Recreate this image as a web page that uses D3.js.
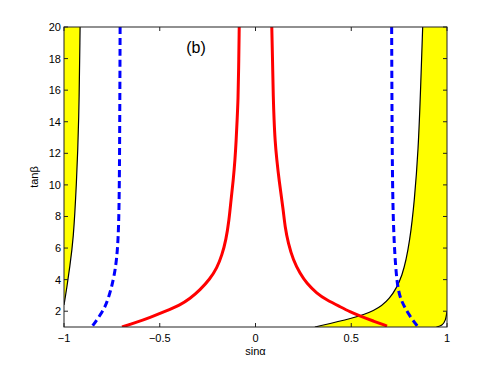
<!DOCTYPE html>
<html>
<head>
<meta charset="utf-8">
<script src="https://cdn.jsdelivr.net/npm/d3@7"></script>
<style>
  body { margin: 0; background: #fff; }
  .chart { width: 494px; height: 368px; }
  text { font-family: "Liberation Sans", Arial, sans-serif; }
</style>
</head>
<body>
<div class="chart"></div>
<script>
// tick labels
const xTicks = [-1, -0.5, 0, 0.5, 1];
const yTicks = [2, 4, 6, 8, 10, 12, 14, 16, 18, 20];

// boundaries of the yellow regions, [sinα, tanβ]
const leftEdge = [[-1, 2.4], [-0.985, 3.5], [-0.97, 4.8], [-0.951, 6.5], [-0.935, 10], [-0.922, 14], [-0.916, 20]];
const rightEdge = [[0.31, 1], [0.51, 1.56], [0.62, 2.0], [0.70, 2.7], [0.77, 4.17], [0.807, 6.5], [0.83, 9], [0.85, 12.2], [0.862, 16], [0.873, 20]];
const cornerEdge = [[0.945, 1], [0.975, 1.1], [0.993, 1.4], [1.0, 2.0]];

// dashed blue curves
const blueLeft = [[-0.707, 20], [-0.71, 10], [-0.716, 6.3], [-0.734, 4.3], [-0.77, 2.7], [-0.796, 2.0], [-0.855, 1]];
const blueRight = [[0.711, 20], [0.714, 10], [0.723, 6.3], [0.739, 3.55], [0.762, 2.6], [0.807, 1.65], [0.849, 1]];

// solid red curves
const redLeft = [[-0.085, 20], [-0.088, 17.3], [-0.091, 15.4], [-0.096, 14.1], [-0.101, 12.8], [-0.107, 11.6],
  [-0.116, 10.3], [-0.128, 9.04], [-0.138, 7.78], [-0.154, 6.51], [-0.175, 5.56], [-0.201, 4.74], [-0.238, 4.04],
  [-0.290, 3.34], [-0.342, 2.80], [-0.394, 2.39], [-0.473, 1.98], [-0.551, 1.60], [-0.624, 1.285], [-0.697, 1.0]];
const redRight = [[0.085, 20], [0.089, 17.9], [0.093, 15.4], [0.097, 14.1], [0.102, 12.8], [0.111, 11.6],
  [0.123, 10.3], [0.145, 8.41], [0.154, 7.35], [0.171, 6.30], [0.197, 5.24], [0.232, 4.40], [0.267, 3.77],
  [0.320, 3.13], [0.372, 2.71], [0.441, 2.29], [0.493, 1.97], [0.546, 1.70], [0.614, 1.38], [0.687, 1.06]];

const width = 494, height = 368;
const mLeft = 64, mRight = 447, mTop = 27, mBottom = 327;

const svg = d3.select('.chart').append('svg')
  .attr('width', width)
  .attr('height', height);

const x = d3.scaleLinear().domain([-1, 1]).range([mLeft, mRight]);
const y = d3.scaleLinear().domain([1, 20]).range([mBottom, mTop]);

svg.append('clipPath').attr('id', 'clip')
  .append('rect')
  .attr('x', mLeft).attr('y', mTop)
  .attr('width', mRight - mLeft).attr('height', mBottom - mTop);

const plot = svg.append('g').attr('clip-path', 'url(#clip)');

// basis curve smooths out the reading noise a bit
const line = d3.line()
  .x(d => x(d[0]))
  .y(d => y(d[1]))
  .curve(d3.curveBasis);

// yellow regions
plot.append('path')
  .attr('d', line(leftEdge) + 'L' + x(-1) + ',' + y(20) + 'Z')
  .style('fill', 'yellow');

plot.append('path')
  .attr('d', line(rightEdge) + 'L' + x(1) + ',' + y(20) + 'L' + x(1) + ',' + y(2) +
    line(cornerEdge.slice().reverse()).replace('M', 'L') + 'Z')
  .style('fill', 'yellow');

// black boundaries
[leftEdge, rightEdge, cornerEdge].forEach(d => {
  plot.append('path')
    .attr('d', line(d))
    .style('fill', 'none')
    .style('stroke', 'black')
    .style('stroke-width', '1.2px');
});

// blue dashed
[blueLeft, blueRight].forEach(d => {
  plot.append('path')
    .attr('d', line(d))
    .style('fill', 'none')
    .style('stroke', 'blue')
    .style('stroke-width', '3px')
    .style('stroke-dasharray', '7,4');
});

// red
[redLeft, redRight].forEach(d => {
  plot.append('path')
    .attr('d', line(d))
    .style('fill', 'none')
    .style('stroke', 'red')
    .style('stroke-width', '3px');
});

// box
svg.append('rect')
  .attr('x', mLeft).attr('y', mTop)
  .attr('width', mRight - mLeft).attr('height', mBottom - mTop)
  .style('fill', 'none')
  .style('stroke', '#222')
  .style('stroke-width', '1px');

// ticks, pointing inwards on all four sides
const tk = 4;
xTicks.forEach(t => {
  svg.append('line').attr('x1', x(t)).attr('x2', x(t)).attr('y1', mBottom).attr('y2', mBottom - tk).style('stroke', '#222');
  svg.append('line').attr('x1', x(t)).attr('x2', x(t)).attr('y1', mTop).attr('y2', mTop + tk).style('stroke', '#222');
  svg.append('text')
    .attr('x', x(t)).attr('y', mBottom + 15)
    .attr('text-anchor', 'middle')
    .attr('font-size', 11)
    .text(t < 0 ? '\u2212' + Math.abs(t) : t);
});
yTicks.forEach(t => {
  svg.append('line').attr('x1', mLeft).attr('x2', mLeft + tk).attr('y1', y(t)).attr('y2', y(t)).style('stroke', '#222');
  svg.append('line').attr('x1', mRight).attr('x2', mRight - tk).attr('y1', y(t)).attr('y2', y(t)).style('stroke', '#222');
  svg.append('text')
    .attr('x', mLeft - 3).attr('y', y(t) + 4)
    .attr('text-anchor', 'end')
    .attr('font-size', 11)
    .text(t);
});

// labels
svg.append('text')
  .attr('x', (mLeft + mRight) / 2).attr('y', 355)
  .attr('text-anchor', 'middle')
  .attr('font-size', 11)
  .text('sin\u03b1');

svg.append('text')
  .attr('transform', 'translate(38,' + ((mTop + mBottom) / 2) + ') rotate(-90)')
  .attr('text-anchor', 'middle')
  .attr('font-size', 11)
  .text('tan\u03b2');

svg.append('text')
  .attr('x', 196).attr('y', 53)
  .attr('text-anchor', 'middle')
  .attr('font-size', 16)
  .text('(b)');
</script>
</body>
</html>
